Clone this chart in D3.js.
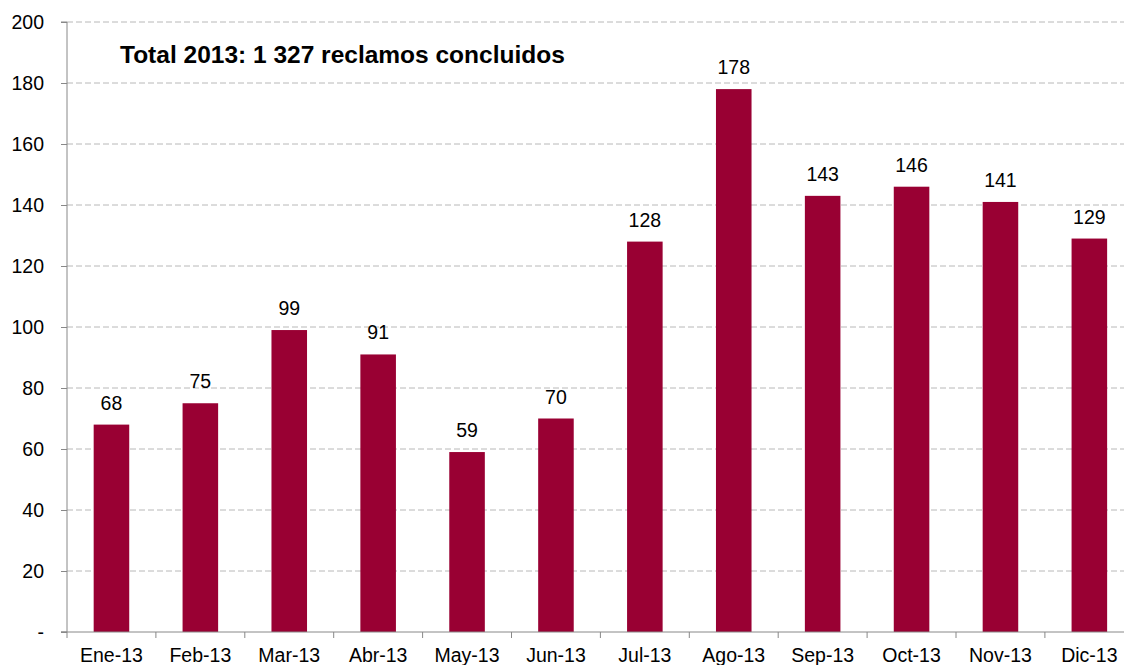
<!DOCTYPE html>
<html>
<head>
<meta charset="utf-8">
<script src="https://cdn.jsdelivr.net/npm/d3@7"></script>
<style>
  body { margin: 0; background: #fff; }
  text { font-family: "Liberation Sans", Arial, sans-serif; }
</style>
</head>
<body>
<div id="container"></div>
<script>
// container window size
let cwW = 1124;
let cwH = 665;

// data
const months = ["Ene-13","Feb-13","Mar-13","Abr-13","May-13","Jun-13","Jul-13","Ago-13","Sep-13","Oct-13","Nov-13","Dic-13"];
const reclamos = [68, 75, 99, 91, 59, 70, 128, 178, 143, 146, 141, 129];
const yTicks = [0, 20, 40, 60, 80, 100, 120, 140, 160, 180, 200];
const title = "Total 2013: 1 327 reclamos concluidos";

const x0 = 67, x1 = 67 + 88.9 * 12;
const yBase = 632, yTop = 22;
const fs = 19.5;

let svgArea = d3.select("#container").append("svg")
  .attr("width", cwW)
  .attr("height", cwH);

let x = d3.scaleBand().domain(months).range([x0, x1]).paddingInner(0.6).paddingOuter(0.3);
let y = d3.scaleLinear().domain([0, 200]).range([yBase, yTop]);

// gridlines
svgArea.append("g")
  .selectAll("line")
  .data(yTicks.filter(d => d > 0))
  .enter()
  .append("line")
  .attr("x1", x0)
  .attr("x2", cwW)
  .attr("y1", d => y(d))
  .attr("y2", d => y(d))
  .attr("stroke", "#b8b8b8")
  .attr("stroke-dasharray", "6,3")
  .attr("stroke-width", 1);

// bars
svgArea.append("g")
  .selectAll("rect")
  .data(reclamos)
  .enter()
  .append("rect")
  .attr("x", (d, i) => x(months[i]))
  .attr("y", d => y(d))
  .attr("width", x.bandwidth())
  .attr("height", d => yBase - y(d))
  .attr("fill", "#990033");

// value labels
svgArea.append("g")
  .selectAll("text")
  .data(reclamos)
  .enter()
  .append("text")
  .attr("x", (d, i) => x(months[i]) + x.bandwidth() / 2)
  .attr("y", d => y(d) - 15)
  .attr("text-anchor", "middle")
  .attr("font-size", fs)
  .attr("fill", "#000")
  .text(d => d);

// y axis
let yAxis = d3.axisLeft(y)
  .tickValues(yTicks)
  .tickSize(6)
  .tickPadding(17)
  .tickFormat(d => d === 0 ? "-" : d);
let gy = svgArea.append("g")
  .attr("transform", "translate(" + x0 + ",0)")
  .call(yAxis);
gy.select(".domain").attr("stroke", "#888").attr("d", "M-6," + yTop + "H0V" + yBase + "H-6");
gy.selectAll(".tick line").attr("stroke", "#888");
gy.selectAll(".tick text").attr("font-size", fs).attr("fill", "#000")
  .attr("font-family", "Liberation Sans, Arial, sans-serif");

// x axis line + ticks at band edges
svgArea.append("line")
  .attr("x1", x0 - 6).attr("x2", cwW)
  .attr("y1", yBase).attr("y2", yBase)
  .attr("stroke", "#888");
svgArea.append("g")
  .selectAll("line")
  .data(d3.range(13))
  .enter()
  .append("line")
  .attr("x1", i => x0 + i * x.step())
  .attr("x2", i => x0 + i * x.step())
  .attr("y1", yBase)
  .attr("y2", yBase + 6)
  .attr("stroke", "#888");

// month labels
svgArea.append("g")
  .selectAll("text")
  .data(months)
  .enter()
  .append("text")
  .attr("x", d => x(d) + x.bandwidth() / 2)
  .attr("y", 662)
  .attr("text-anchor", "middle")
  .attr("font-size", fs)
  .text(d => d);

// title
svgArea.append("text")
  .attr("x", 120)
  .attr("y", 63)
  .attr("font-size", 24.5)
  .attr("font-weight", "bold")
  .text(title);
</script>
</body>
</html>
